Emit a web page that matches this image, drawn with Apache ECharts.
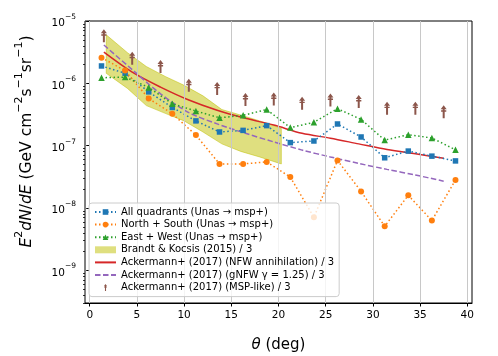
<!DOCTYPE html>
<html>
<head>
<meta charset="utf-8">
<script src="https://cdn.jsdelivr.net/npm/echarts@6/dist/echarts.min.js"></script>
<style>
body { margin: 0; padding: 0; background: #fff; }
#chart { width: 498px; height: 356px; }
</style>
</head>
<body>
<div id="chart"></div>
<script>
// bin centres of the measured profiles (deg)
var thetaBins = [1.25, 3.75, 6.25, 8.75, 11.25, 13.75, 16.25, 18.75, 21.25, 23.75, 26.25, 28.75, 31.25, 33.75, 36.25, 38.75];
var allQuad = [1.9e-6, 1.45e-6, 7.3e-7, 4.1e-7, 2.5e-7, 1.66e-7, 1.76e-7, 2.1e-7, 1.12e-7, 1.19e-7, 2.23e-7, 1.38e-7, 6.4e-8, 8.2e-8, 6.8e-8, 5.7e-8];
var northSouth = [2.58e-6, 1.6e-6, 5.7e-7, 3.26e-7, 1.48e-7, 5.1e-8, 5.1e-8, 5.5e-8, 3.14e-8, 7.1e-9, 5.8e-8, 1.85e-8, 5.1e-9, 1.6e-8, 6.3e-9, 2.82e-8];
var eastWest = [1.23e-6, 1.26e-6, 8.6e-7, 4.7e-7, 3.6e-7, 2.8e-7, 3.07e-7, 3.8e-7, 1.95e-7, 2.37e-7, 3.93e-7, 2.64e-7, 1.23e-7, 1.5e-7, 1.33e-7, 8.6e-8];

// Ackermann+ (2017) models
var modelTheta = [1.5, 4.5, 7.5, 10.5, 13.5, 16.5, 19.5, 22.5, 25.5, 28.5, 31.5, 34.5, 37.5];
var nfwAnn = [3.16e-6, 1.51e-6, 8.7e-7, 5.4e-7, 3.7e-7, 2.75e-7, 2.14e-7, 1.58e-7, 1.32e-7, 1.07e-7, 8.7e-8, 7.4e-8, 6.3e-8];
var gnfw = [4.12e-6, 1.66e-6, 6.8e-7, 3.4e-7, 2.24e-7, 1.58e-7, 1.15e-7, 8.5e-8, 6.6e-8, 5.2e-8, 4.17e-8, 3.39e-8, 2.7e-8];
var mspLike = [5.8e-6, 2.52e-6, 1.86e-6, 9.3e-7, 8.3e-7, 5.5e-7, 5.6e-7, 4.8e-7, 5.4e-7, 5.1e-7, 4.0e-7, 4.0e-7, 3.5e-7];

// Brandt & Kocsis (2015) band
var bandTheta = [1.75, 4, 6, 8, 10, 12, 14, 16, 18, 20.3];
var bandHigh = [6.0e-6, 3.1e-6, 1.86e-6, 1.29e-6, 9.3e-7, 6.3e-7, 3.8e-7, 3.1e-7, 2.5e-7, 1.9e-7];
var bandLow = [1.45e-6, 8.3e-7, 4.4e-7, 3.3e-7, 2.5e-7, 1.66e-7, 1.07e-7, 8.1e-8, 6.6e-8, 5.1e-8];

var xTicks = [0, 5, 10, 15, 20, 25, 30, 35, 40];
var yTicks = [1e-9, 1e-8, 1e-7, 1e-6, 1e-5];
var minorMantissa = [2, 3, 4, 5, 6, 7, 8, 9];
var minorDecades = [-10, -9, -8, -7, -6];

var yMinorTicks = [];
minorDecades.forEach(function (d) {
    minorMantissa.forEach(function (m) {
        var v = m * Math.pow(10, d);
        if (v >= 3e-10 && v <= 1e-5) yMinorTicks.push(v);
    });
});

function pairs(xs, ys) {
    return xs.map(function (x, i) { return [x, ys[i]]; });
}

function powLabel(v) {
    var l = Math.log(v) / Math.LN10;
    var e = Math.round(l);
    if (Math.abs(l - e) > 1e-6) return '';
    return '{b|10}{s|\u2212' + (-e) + '}';
}

var names = {
    all: 'All quadrants (Unas \u2192 msp+)',
    ns: 'North + South (Unas \u2192 msp+)',
    ew: 'East + West (Unas \u2192 msp+)',
    band: 'Brandt & Kocsis (2015) / 3',
    nfw: 'Ackermann+ (2017) (NFW annihilation) / 3',
    gnfw: 'Ackermann+ (2017) (gNFW \u03b3 = 1.25) / 3',
    msp: 'Ackermann+ (2017) (MSP-like) / 3'
};

// grid lines at the major ticks
var gridLines = xTicks.map(function (v) { return { xAxis: v }; })
    .concat(yTicks.map(function (v) { return { yAxis: v }; }));

var chart = echarts.init(document.getElementById('chart'));

var option = {
    animation: false,
    grid: {
        left: 85, right: 26, top: 21, bottom: 53,
        outerBoundsMode: 'none',
        show: true, borderColor: '#000', borderWidth: 1
    },
    legend: {
        orient: 'vertical',
        z: 10,
        left: 89,
        top: 203,
        padding: [3, 5, 3, 5],
        itemWidth: 21,
        itemHeight: 7,
        itemGap: 0.6,
        backgroundColor: 'rgba(255,255,255,0.8)',
        borderColor: '#cccccc',
        borderWidth: 1,
        borderRadius: 3,
        textStyle: { fontSize: 10, color: '#000', lineHeight: 12, fontFamily: 'DejaVu Sans' },
        data: [
            { name: names.all },
            { name: names.ns },
            { name: names.ew },
            { name: names.band, icon: 'rect' },
            { name: names.nfw, itemStyle: { opacity: 0 } },
            { name: names.gnfw, itemStyle: { opacity: 0 } },
            { name: names.msp }
        ]
    },
    xAxis: {
        type: 'value',
        min: -0.5,
        max: 40.5,
        name: '{i|\u03b8} (deg)',
        nameLocation: 'middle',
        nameGap: 35,
        nameTextStyle: { fontSize: 15, color: '#000', fontFamily: 'DejaVu Sans', rich: { i: { fontSize: 15, fontStyle: 'italic', fontFamily: 'DejaVu Sans' } } },
        axisLine: { show: true, onZero: false, lineStyle: { color: '#000', width: 1 } },
        axisTick: { show: true, length: 3.5, customValues: xTicks, lineStyle: { color: '#000' } },
        axisLabel: { customValues: xTicks, fontSize: 10.5, color: '#000', margin: 7, fontFamily: 'DejaVu Sans' },
        splitLine: { show: false }
    },
    yAxis: [{
        type: 'log',
        logBase: 10,
        min: 3e-10,
        max: 1e-5,
        name: '{i|E}{s|2}{i|dN}{r|/}{i|dE}{r| (GeV cm}{s|\u22122}{r|s}{s|\u22121}{r|sr}{s|\u22121}{r|)}',
        nameLocation: 'middle',
        nameRotate: 90,
        nameGap: 50,
        nameTextStyle: {
            fontSize: 15.5, color: '#000', fontFamily: 'DejaVu Sans', padding: [0, 0, 0, 41],
            rich: {
                i: { fontSize: 15.5, fontStyle: 'italic', lineHeight: 21, verticalAlign: 'bottom', fontFamily: 'DejaVu Sans' },
                r: { fontSize: 15.5, lineHeight: 21, verticalAlign: 'bottom', fontFamily: 'DejaVu Sans' },
                s: { fontSize: 11, lineHeight: 11, verticalAlign: 'top', fontFamily: 'DejaVu Sans' }
            }
        },
        axisLine: { show: true, lineStyle: { color: '#000', width: 1 } },
        axisTick: { show: true, length: 3.5, customValues: yTicks, lineStyle: { color: '#000' } },
        axisLabel: {
            customValues: yTicks,
            formatter: powLabel,
            margin: 9,
            color: '#000',
            rich: {
                b: { fontSize: 10.5, lineHeight: 16, verticalAlign: 'bottom', fontFamily: 'DejaVu Sans', color: '#000' },
                s: { fontSize: 7.5, lineHeight: 8, verticalAlign: 'top', fontFamily: 'DejaVu Sans', color: '#000' }
            }
        },
        splitLine: { show: false }
    }, {
        type: 'log',
        logBase: 10,
        min: 3e-10,
        max: 1e-5,
        position: 'left',
        axisLine: { show: false },
        axisTick: { show: true, length: 2, customValues: yMinorTicks, lineStyle: { color: '#000', width: 0.8 } },
        axisLabel: { show: false },
        splitLine: { show: false }
    }],
    series: [{
        type: 'line',
        data: [],
        z: 0,
        silent: true,
        markLine: {
            silent: true,
            animation: false,
            symbol: 'none',
            label: { show: false },
            lineStyle: { color: '#c8c8c8', width: 1, type: 'solid' },
            emphasis: { disabled: true },
            data: gridLines
        }
    }, {
        name: names.band,
        type: 'custom',
        z: 1,
        itemStyle: { color: 'rgba(191,191,0,0.5)' },
        data: [[bandTheta[0], bandLow[0]]],
        renderItem: function (params, api) {
            var pts = [];
            for (var i = 0; i < bandTheta.length; i++) pts.push(api.coord([bandTheta[i], bandHigh[i]]));
            for (var j = bandTheta.length - 1; j >= 0; j--) pts.push(api.coord([bandTheta[j], bandLow[j]]));
            return {
                type: 'polygon',
                shape: { points: pts },
                style: { fill: 'rgba(191,191,0,0.5)', stroke: 'rgba(191,191,0,0.5)', lineWidth: 1 }
            };
        }
    }, {
        name: names.all,
        type: 'line',
        z: 4,
        data: pairs(thetaBins, allQuad),
        symbol: 'rect',
        symbolSize: 5.5,
        itemStyle: { color: '#1f77b4' },
        lineStyle: { color: '#1f77b4', width: 1.5, type: [1.5, 2.5] }
    }, {
        name: names.ns,
        type: 'line',
        z: 4,
        data: pairs(thetaBins, northSouth),
        symbol: 'circle',
        symbolSize: 6,
        itemStyle: { color: '#ff7f0e' },
        lineStyle: { color: '#ff7f0e', width: 1.5, type: [1.5, 2.5] }
    }, {
        name: names.ew,
        type: 'line',
        z: 4,
        data: pairs(thetaBins, eastWest),
        symbol: 'triangle',
        symbolSize: 6.5,
        itemStyle: { color: '#2ca02c' },
        lineStyle: { color: '#2ca02c', width: 1.5, type: [1.5, 2.5] }
    }, {
        name: names.nfw,
        type: 'line',
        z: 3,
        data: pairs(modelTheta, nfwAnn),
        smooth: 0.3,
        showSymbol: false,
        symbol: 'none',
        itemStyle: { color: '#d62728' },
        lineStyle: { color: '#d62728', width: 1.5 }
    }, {
        name: names.gnfw,
        type: 'line',
        z: 3,
        data: pairs(modelTheta, gnfw),
        smooth: 0.3,
        showSymbol: false,
        symbol: 'none',
        itemStyle: { color: '#9467bd' },
        lineStyle: { color: '#9467bd', width: 1.5, type: [5.5, 2.5] }
    }, {
        name: names.msp,
        type: 'scatter',
        z: 5,
        data: pairs(modelTheta, mspLike),
        symbol: 'path://M0,0 L3,4 L1,4 L1,5 L2.6,5 L2.6,6.4 L1,6.4 L1,13 L-1,13 L-1,6.4 L-2.6,6.4 L-2.6,5 L-1,5 L-1,4 L-3,4 Z',
        symbolSize: [6, 13],
        itemStyle: { color: '#8c564b', opacity: 1 }
    }]
};

chart.setOption(option);
</script>
</body>
</html>
